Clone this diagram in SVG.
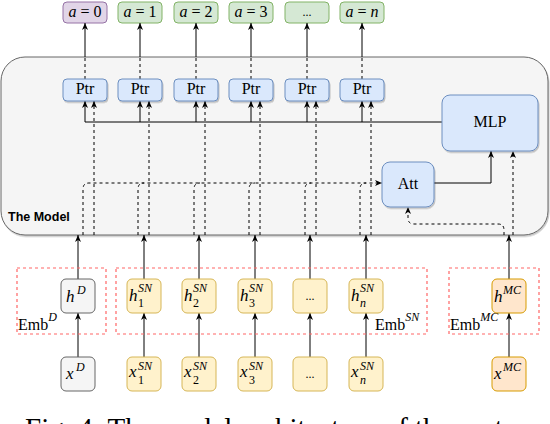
<svg xmlns="http://www.w3.org/2000/svg" width="550" height="424" viewBox="0 0 550 424">
<defs>
<marker id="arr" markerUnits="userSpaceOnUse" markerWidth="8" markerHeight="7" refX="7" refY="3" orient="auto">
<path d="M0,0 L7,3 L0,6 L2,3 Z" fill="#000"/>
</marker>
<filter id="sh" x="-10%" y="-10%" width="130%" height="140%">
<feDropShadow dx="1" dy="1.5" stdDeviation="0.6" flood-color="#000" flood-opacity="0.22"/>
</filter>
<style>
.sol{fill:none;stroke:#000;stroke-width:1}
.dash{fill:none;stroke:#000;stroke-width:1;stroke-dasharray:3 3}
.arr{marker-end:url(#arr)}
.purple{fill:#e1d5e7;stroke:#9673a6}
.green{fill:#d5e8d4;stroke:#82b366}
.blue{fill:#dae8fc;stroke:#6c8ebf}
.grey{fill:#f5f5f5;stroke:#666666}
.yel{fill:#fff2cc;stroke:#d6b656}
.orange{fill:#ffe6cc;stroke:#d79b00}
.emb{fill:none;stroke:#ff6666;stroke-width:1.2;stroke-dasharray:3 3}
text{font-family:"Liberation Serif","DejaVu Serif",serif;fill:#000}
.m{font-size:16px}
.i{font-style:italic}
.big{font-size:17px;font-style:italic}
.sup{font-size:12px;font-style:italic}
.lbl{font-size:16px;text-anchor:middle}
.dots{font-size:12px;text-anchor:middle}
</style>
</defs>

<g id="model">
<rect x="1" y="57" width="547" height="178" rx="24" ry="24" class="grey" filter="url(#sh)"/>
<text x="8" y="221" style="font-family:'Liberation Sans',Arial,sans-serif;font-size:12.5px;font-weight:bold">The Model</text>
</g>

<g id="outputs">
<g id="out0"><rect x="63" y="2" width="44" height="21" rx="4" class="purple"/><text x="85" y="17" class="lbl"><tspan class="i">a</tspan> = 0</text></g>
<g id="out1"><rect x="118" y="2" width="44" height="21" rx="4" class="green"/><text x="140" y="17" class="lbl"><tspan class="i">a</tspan> = 1</text></g>
<g id="out2"><rect x="174" y="2" width="44" height="21" rx="4" class="green"/><text x="196" y="17" class="lbl"><tspan class="i">a</tspan> = 2</text></g>
<g id="out3"><rect x="229" y="2" width="44" height="21" rx="4" class="green"/><text x="251" y="17" class="lbl"><tspan class="i">a</tspan> = 3</text></g>
<g id="out4"><rect x="285" y="2" width="44" height="21" rx="4" class="green"/><text x="307" y="16" class="dots">...</text></g>
<g id="outn"><rect x="340" y="2" width="44" height="21" rx="4" class="green"/><text x="362" y="17" class="lbl"><tspan class="i">a</tspan> = <tspan class="i">n</tspan></text></g>
</g>

<g id="connectors">
<!-- Ptr to outputs -->
<path class="dash" d="M85,79V57M140,79V57M196,79V57M251,79V57M307,79V57M362,79V57"/>
<path class="sol arr" d="M85,57V23"/>
<path class="sol arr" d="M140,57V23"/>
<path class="sol arr" d="M196,57V23"/>
<path class="sol arr" d="M251,57V23"/>
<path class="sol arr" d="M307,57V23"/>
<path class="sol arr" d="M362,57V23"/>
<!-- MLP to Ptr -->
<path class="sol" d="M85,122H442"/>
<path class="sol arr" d="M85,122V101"/>
<path class="sol arr" d="M140,122V101"/>
<path class="sol arr" d="M196,122V101"/>
<path class="sol arr" d="M251,122V101"/>
<path class="sol arr" d="M307,122V101"/>
<path class="sol arr" d="M362,122V101"/>
<!-- embeddings to Ptr (dashed) -->
<path class="dash arr" d="M94,235V101"/>
<path class="dash arr" d="M149,235V101"/>
<path class="dash arr" d="M205,235V101"/>
<path class="dash arr" d="M260,235V101"/>
<path class="dash arr" d="M316,235V101"/>
<path class="dash arr" d="M371,235V101"/>
<!-- embeddings to Att (dashed) -->
<path class="dash arr" d="M83,235V189Q83,183 89,183H382"/>
<path class="dash" d="M138,235V189Q138,183 144,183"/>
<path class="dash" d="M194,235V189Q194,183 200,183"/>
<path class="dash" d="M249,235V189Q249,183 255,183"/>
<path class="dash" d="M305,235V189Q305,183 311,183"/>
<path class="dash" d="M360,235V189Q360,183 366,183"/>
<!-- Att to MLP -->
<path class="sol arr" d="M434,183H491V151"/>
<!-- MC to MLP and Att -->
<path class="dash arr" d="M513,235V151"/>
<path class="dash arr" d="M504,235V230Q504,224 498,224H414Q408,224 408,218V207"/>
<!-- h nodes into model -->
<path class="sol arr" d="M78,279V235"/>
<path class="sol arr" d="M144,279V235"/>
<path class="sol arr" d="M199,279V235"/>
<path class="sol arr" d="M255,279V235"/>
<path class="sol arr" d="M310,279V235"/>
<path class="sol arr" d="M366,279V235"/>
<path class="sol arr" d="M509,279V235"/>
<!-- x to h -->
<path class="sol arr" d="M78,357V313"/>
<path class="sol arr" d="M144,357V313"/>
<path class="sol arr" d="M199,357V313"/>
<path class="sol arr" d="M255,357V313"/>
<path class="sol arr" d="M310,357V313"/>
<path class="sol arr" d="M366,357V313"/>
<path class="sol arr" d="M509,357V313"/>
</g>

<g id="ptrs">
<g id="ptr0"><rect x="63" y="79" width="44" height="22" rx="4" class="blue" filter="url(#sh)"/><text x="85" y="94" class="lbl">Ptr</text></g>
<g id="ptr1"><rect x="118" y="79" width="44" height="22" rx="4" class="blue" filter="url(#sh)"/><text x="140" y="94" class="lbl">Ptr</text></g>
<g id="ptr2"><rect x="174" y="79" width="44" height="22" rx="4" class="blue" filter="url(#sh)"/><text x="196" y="94" class="lbl">Ptr</text></g>
<g id="ptr3"><rect x="229" y="79" width="44" height="22" rx="4" class="blue" filter="url(#sh)"/><text x="251" y="94" class="lbl">Ptr</text></g>
<g id="ptr4"><rect x="285" y="79" width="44" height="22" rx="4" class="blue" filter="url(#sh)"/><text x="307" y="94" class="lbl">Ptr</text></g>
<g id="ptrn"><rect x="340" y="79" width="44" height="22" rx="4" class="blue" filter="url(#sh)"/><text x="362" y="94" class="lbl">Ptr</text></g>
</g>

<g id="mlp"><rect x="442" y="95" width="96" height="56" rx="8" class="blue" filter="url(#sh)"/><text x="490" y="127" class="lbl">MLP</text></g>
<g id="att"><rect x="382" y="162" width="52" height="45" rx="8" class="blue" filter="url(#sh)"/><text x="408" y="189" class="lbl">Att</text></g>

<g id="embD">
<rect x="17" y="268" width="89" height="66" class="emb"/>
<text x="18" y="330" class="m">Emb<tspan class="sup" dy="-9">D</tspan></text>
</g>
<g id="embSN">
<rect x="116" y="268" width="311" height="66" class="emb"/>
<text x="375" y="330" class="m">Emb<tspan class="sup" dy="-9">SN</tspan></text>
</g>
<g id="embMC">
<rect x="449" y="268" width="90" height="66" class="emb"/>
<text x="450" y="330" class="m">Emb<tspan class="sup" dy="-9">MC</tspan></text>
</g>

<g id="hD"><rect x="61" y="279" width="34" height="34" rx="5" class="grey"/><text x="66" y="302" class="big">h</text><text x="77" y="294" class="sup">D</text></g>
<g id="h1"><rect x="127" y="279" width="34" height="34" rx="5" class="yel"/><text x="129" y="301" class="big">h</text><text x="138" y="292" class="sup">SN</text><text x="138" y="307" class="sup" style="font-style:normal">1</text></g>
<g id="h2"><rect x="182" y="279" width="34" height="34" rx="5" class="yel"/><text x="184" y="301" class="big">h</text><text x="193" y="292" class="sup">SN</text><text x="193" y="307" class="sup" style="font-style:normal">2</text></g>
<g id="h3"><rect x="238" y="279" width="34" height="34" rx="5" class="yel"/><text x="240" y="301" class="big">h</text><text x="249" y="292" class="sup">SN</text><text x="249" y="307" class="sup" style="font-style:normal">3</text></g>
<g id="h4"><rect x="293" y="279" width="34" height="34" rx="5" class="yel"/><text x="310" y="300" class="dots">...</text></g>
<g id="hn"><rect x="349" y="279" width="34" height="34" rx="5" class="yel"/><text x="351" y="301" class="big">h</text><text x="360" y="292" class="sup">SN</text><text x="360" y="307" class="sup">n</text></g>
<g id="hMC"><rect x="492" y="279" width="34" height="34" rx="5" class="orange"/><text x="494" y="302" class="big">h</text><text x="503" y="294" class="sup">MC</text></g>

<g id="xD"><rect x="61" y="357" width="34" height="34" rx="5" class="grey"/><text x="66" y="379" class="big">x</text><text x="76" y="371" class="sup">D</text></g>
<g id="x1"><rect x="127" y="357" width="34" height="34" rx="5" class="yel"/><text x="129" y="377" class="big">x</text><text x="138" y="370" class="sup">SN</text><text x="138" y="384" class="sup" style="font-style:normal">1</text></g>
<g id="x2"><rect x="182" y="357" width="34" height="34" rx="5" class="yel"/><text x="184" y="377" class="big">x</text><text x="193" y="370" class="sup">SN</text><text x="193" y="384" class="sup" style="font-style:normal">2</text></g>
<g id="x3"><rect x="238" y="357" width="34" height="34" rx="5" class="yel"/><text x="240" y="377" class="big">x</text><text x="249" y="370" class="sup">SN</text><text x="249" y="384" class="sup" style="font-style:normal">3</text></g>
<g id="x4"><rect x="293" y="357" width="34" height="34" rx="5" class="yel"/><text x="310" y="378" class="dots">...</text></g>
<g id="xn"><rect x="349" y="357" width="34" height="34" rx="5" class="yel"/><text x="351" y="377" class="big">x</text><text x="360" y="370" class="sup">SN</text><text x="360" y="384" class="sup">n</text></g>
<g id="xMC"><rect x="492" y="357" width="34" height="34" rx="5" class="orange"/><text x="494" y="379" class="big">x</text><text x="503" y="371" class="sup">MC</text></g>

<text x="25" y="438" style="font-size:29px">Fig. 4: The model architecture of the system</text>
</svg>
